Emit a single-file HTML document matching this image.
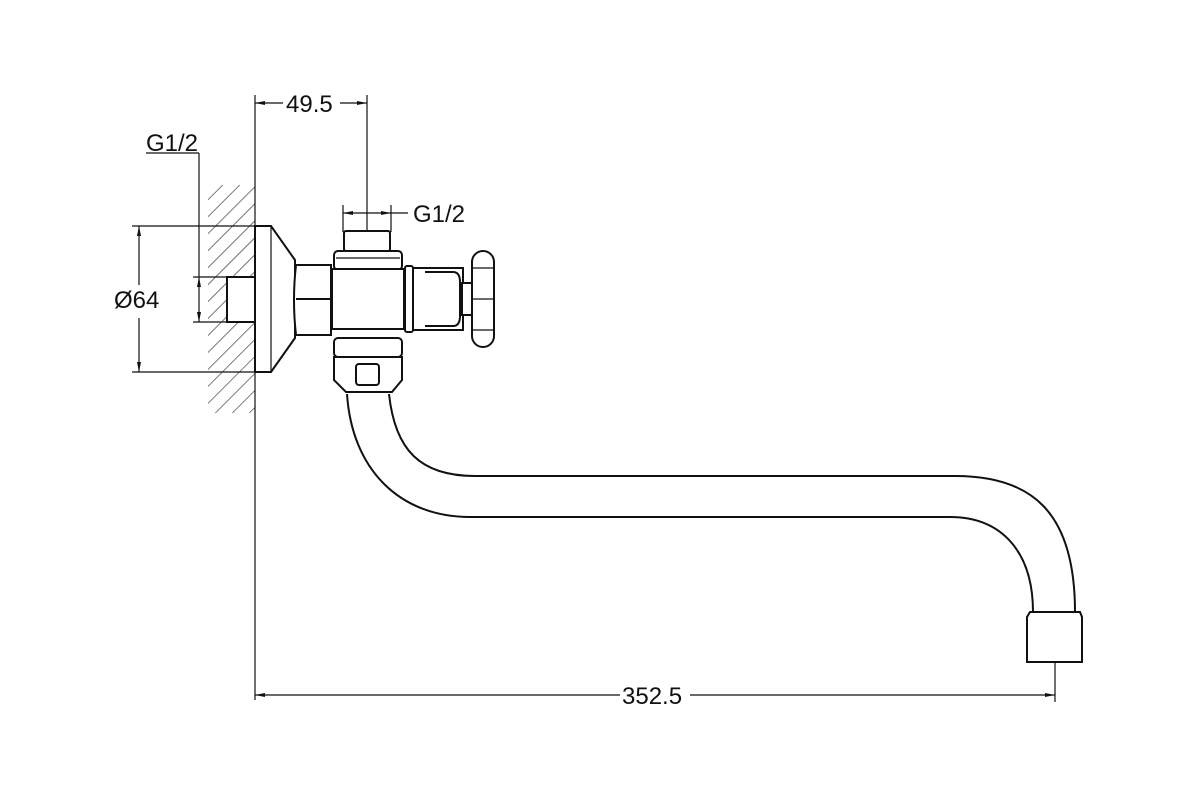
<!DOCTYPE html>
<html><head><style>body{margin:0;background:#fff}svg{display:block}text{font-family:"Liberation Sans",sans-serif;fill:#111}</style></head>
<body>
<svg width="1200" height="800" viewBox="0 0 1200 800" xmlns="http://www.w3.org/2000/svg">
<defs>
<pattern id="h" width="12" height="12" patternUnits="userSpaceOnUse" patternTransform="rotate(45)"><line x1="0" y1="0" x2="0" y2="12" stroke="#222" stroke-width="1.2"/></pattern>
<marker id="a" viewBox="0 0 10 6" refX="10" refY="3" markerWidth="12" markerHeight="6" orient="auto-start-reverse" markerUnits="userSpaceOnUse"><path d="M0,1 L10,3 L0,5 z" fill="#111"/></marker>
</defs>
<g stroke="#111" fill="none" stroke-width="1.2">
<rect x="208" y="185" width="47" height="228" fill="url(#h)" stroke="none"/>
<line x1="255" y1="95" x2="255" y2="700"/>
<line x1="367" y1="95" x2="367" y2="232"/>
<line x1="255" y1="103" x2="283" y2="103" marker-start="url(#a)"/>
<line x1="340" y1="103" x2="367" y2="103" marker-end="url(#a)"/>
<line x1="146" y1="153" x2="199" y2="153"/>
<line x1="199" y1="153" x2="199" y2="277"/>
<line x1="193" y1="277" x2="255" y2="277"/>
<line x1="193" y1="322" x2="255" y2="322"/>
<line x1="199" y1="300" x2="199" y2="277" marker-end="url(#a)"/>
<line x1="199" y1="300" x2="199" y2="322" marker-end="url(#a)"/>
<line x1="132" y1="226" x2="272" y2="226"/>
<line x1="132" y1="372" x2="272" y2="372"/>
<line x1="139" y1="285" x2="139" y2="226" marker-end="url(#a)"/>
<line x1="139" y1="318" x2="139" y2="372" marker-end="url(#a)"/>
<line x1="343" y1="205" x2="343" y2="232"/>
<line x1="391" y1="205" x2="391" y2="232"/>
<line x1="367" y1="213" x2="343" y2="213" marker-end="url(#a)"/>
<line x1="367" y1="213" x2="391" y2="213" marker-end="url(#a)"/>
<line x1="391" y1="213" x2="408" y2="213"/>
</g>
<g stroke="#111" fill="#fff" stroke-width="2">
<rect x="227" y="277" width="28" height="45"/>
<path d="M255,226 H271 L295,260 V338 L271,372 H255 Z"/>
<line x1="271" y1="226" x2="271" y2="372" stroke-width="1.2"/>
<path d="M296,265 H331 V335 H296 Q292,300 296,265 Z"/>
<line x1="296" y1="299" x2="331" y2="299"/>
<rect x="344" y="231" width="46" height="20" rx="2"/>
<rect x="334" y="251" width="68" height="19" rx="4"/>
<line x1="336" y1="258" x2="400" y2="258" stroke-width="1.2"/>
<rect x="334" y="338" width="68" height="19" rx="4"/>
<path d="M334,357 H402 V380 L392,392 H346 L334,380 Z"/>
<rect x="356" y="364" width="23" height="21" rx="3"/>
<rect x="332" y="269" width="72" height="60"/>
<rect x="405" y="266" width="8" height="66" rx="2"/>
<path d="M413,268 H463 V330 H413 Z"/>
<path d="M425,272 H453 Q460,272 460,282 V316 Q460,326 453,326 H425"/>
<rect x="462" y="283" width="10" height="32"/>
<rect x="472" y="251" width="22" height="96" rx="11"/>
<line x1="472" y1="299" x2="494" y2="299" stroke-width="1.2"/>
<line x1="472" y1="268" x2="494" y2="268" stroke-width="1.2"/>
<line x1="472" y1="330" x2="494" y2="330" stroke-width="1.2"/>
</g>
<g stroke="#111" fill="none" stroke-width="2">
<path d="M347,394 C352,470 400,517 470,517 H950 C1000,517 1033,550 1033,612"/>
<path d="M389,394 C395,450 420,476 475,476 H955 C1030,476 1075,510 1075,612"/>
<path d="M1030,612 H1080 L1082,617 V662 H1027 V617 Z" fill="#fff"/>
</g>
<g stroke="#111" fill="none" stroke-width="1.2">
<line x1="1055" y1="662" x2="1055" y2="702"/>
<line x1="255" y1="695" x2="620" y2="695" marker-start="url(#a)"/>
<line x1="690" y1="695" x2="1055" y2="695" marker-end="url(#a)"/>
</g>
<text x="286" y="112" font-size="24">49.5</text>
<text x="146" y="151" font-size="24">G1/2</text>
<text x="413" y="222" font-size="24">G1/2</text>
<text x="114" y="308" font-size="24">Ø64</text>
<text x="622" y="704" font-size="24">352.5</text>
</svg>
</body></html>
